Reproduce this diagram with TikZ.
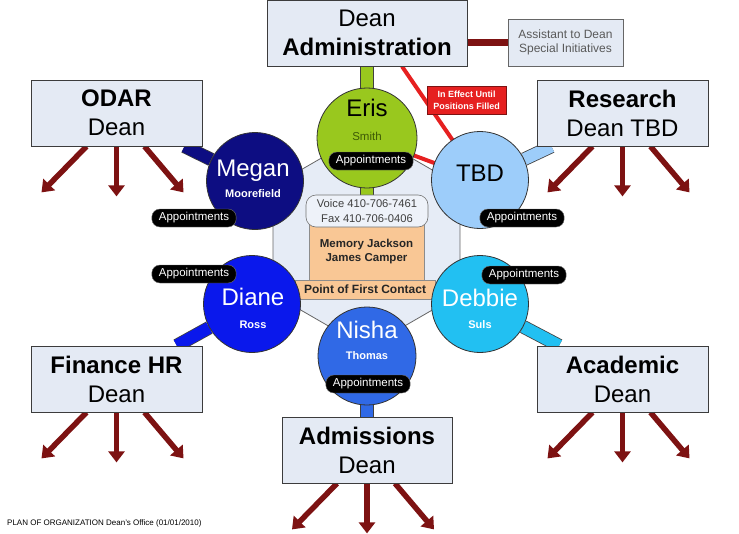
\documentclass[tikz,border=0pt]{standalone}
\usepackage{fontspec}
\setmainfont{Liberation Sans}
\usetikzlibrary{arrows.meta, positioning, calc}
\definecolor{deanfill}{HTML}{E4EAF4}
\definecolor{deanline}{HTML}{3C3C3C}
\definecolor{arrowred}{HTML}{7D1212}
\definecolor{linkred}{HTML}{E62020}
\definecolor{erisgreen}{HTML}{99C81E}
\definecolor{erisdark}{HTML}{3D5A05}
\definecolor{tbdblue}{HTML}{9DCDFA}
\definecolor{megannavy}{HTML}{0D0D82}
\definecolor{dianeblue}{HTML}{0A18EC}
\definecolor{nishablue}{HTML}{3069E6}
\definecolor{debbiecyan}{HTML}{22C0F2}
\definecolor{hexfill}{HTML}{E6ECF6}
\definecolor{contactpeach}{HTML}{F9C795}
\definecolor{voicefill}{HTML}{EEF2F9}

\pgfdeclarelayer{hexlayer}
\pgfdeclarelayer{links}
\pgfsetlayers{hexlayer,links,main}

\tikzset{
  deanbox/.style={draw=deanline, line width=0.8pt, fill=deanfill, minimum width=171pt,
    minimum height=66pt, align=center, inner sep=0pt, font=\fontsize{24}{29}\selectfont},
  person/.style={circle, draw=black!80, line width=0.8pt, fill=#1, minimum size=97pt, inner sep=0pt},
  pname/.style={inner sep=0pt, text height=.72em, text depth=0pt, text=white,
    font=\fontsize{24}{24}\selectfont},
  psub/.style={inner sep=0pt, text height=.72em, text depth=0pt, text=white,
    font=\fontsize{11}{11}\selectfont\bfseries},
  appt/.style={fill=black, draw=black!55, rounded corners=8pt, text=white, minimum height=18pt,
    inner xsep=7pt, inner ysep=0pt, font=\fontsize{11.5}{12}\selectfont},
  band/.style={draw=black!75, line width=0.8pt, double=#1, double distance=12pt},
  redlink/.style={draw=linkred, line width=4pt},
  subarrow/.style={draw=arrowred, line width=5.5pt, -{Triangle[width=16pt,length=11pt]}},
}

\begin{document}
\begin{tikzpicture}[x=1pt, y=-1pt]
  \useasboundingbox (0,0) rectangle (739,533);
  % deans
  \node[deanbox, minimum width=200pt] (adm) at (367,33) {Dean\\\textbf{Administration}};
  \node[draw=black!60, line width=0.6pt, fill=deanfill, minimum width=115pt, minimum height=47pt,
    align=center, inner sep=0pt, text=black!65, font=\fontsize{12}{14}\selectfont]
    (asst) at (565.5,42.5) {Assistant to Dean\\Special Initiatives};
  \node[deanbox] (odar) at (116.5,113) {\textbf{ODAR}\\Dean};
  \node[deanbox] (research) at (622.5,113) {\textbf{Research}\\Dean TBD};
  \node[deanbox] (finance) at (116.5,379) {\textbf{Finance HR}\\Dean};
  \node[deanbox] (academic) at (622.5,379) {\textbf{Academic}\\Dean};
  \node[deanbox, minimum width=170pt] (admissions) at (367,450) {\textbf{Admissions}\\Dean};

  % front desk
  \node[draw=black!45, line width=0.6pt, fill=contactpeach, minimum width=140pt, minimum height=19pt,
    inner sep=0pt, font=\fontsize{12}{12}\selectfont\bfseries, text=black!85]
    (contact) at (365,289.5) {Point of First Contact};
  \node[draw=black!45, line width=0.6pt, fill=contactpeach, minimum width=115pt, minimum height=58pt,
    align=center, inner sep=0pt, font=\fontsize{11.5}{13.5}\selectfont\bfseries, text=black!85]
    (memory) at (366.5,251) {\\[-4pt]Memory Jackson\\James Camper};
  \node[draw=black!55, line width=0.6pt, fill=voicefill, rounded corners=10pt, minimum width=122pt,
    minimum height=32pt, align=center, inner sep=0pt, font=\fontsize{11.2}{14.5}\selectfont, text=black!75]
    (voice) at (367,211) {Voice 410-706-7461\\Fax 410-706-0406};

  % staff circles
  \node[person=erisgreen, minimum size=100pt] (eris) at (367,138) {};
  \node[person=tbdblue] (tbd) at (480,180) {};
  \node[person=megannavy] (megan) at (255,181) {};
  \node[person=dianeblue] (diane) at (252,304) {};
  \node[person=debbiecyan] (debbie) at (480,304) {};
  \node[person=nishablue, minimum size=98pt] (nisha) at (367,356) {};

  \node[pname, text=black] (erisN) at (367,113) {Eris};
  \node[psub, text=erisdark, font=\fontsize{11.5}{11.5}\selectfont] (erisS) at (367,137) {Smith};
  \node[pname, text=black] (tbdN) at (480,178) {TBD};
  \node[pname] (meganN) at (253,173) {Megan};
  \node[psub] (meganS) at (253,194) {Moorefield};
  \node[pname] (dianeN) at (253,302) {Diane};
  \node[psub] (dianeS) at (253,325) {Ross};
  \node[pname] (debbieN) at (480,303) {Debbie};
  \node[psub] (debbieS) at (480,325) {Suls};
  \node[pname] (nishaN) at (367,335) {Nisha};
  \node[psub] (nishaS) at (367,356) {Thomas};

  % appointments tags
  \foreach \who/\x/\y in {eris/371/161, megan/194/218, tbd/522/218, diane/194/274, debbie/524/275, nisha/368/384}
    \node[appt] (\who-appt) at (\x,\y) {Appointments};

  \node[draw=arrowred, line width=0.6pt, fill=linkred, minimum width=79pt, minimum height=28pt,
    align=center, inner sep=0pt, text=white, font=\fontsize{9}{12}\selectfont\bfseries]
    (interim) at (466.5,100) {In Effect Until\\Positions Filled};

  \node[anchor=west, inner sep=0pt, font=\fontsize{8}{8}\selectfont] (footer) at (7,523)
    {PLAN OF ORGANIZATION Dean’s Office (01/01/2010)};

  % hexagon behind everything
  \begin{pgfonlayer}{hexlayer}
    \draw[fill=hexfill, draw=black!60, line width=0.8pt]
      (366.5,132) -- (460,186) -- (460,294) -- (366.5,348) -- (273,294) -- (273,186) -- cycle;
  \end{pgfonlayer}

  % links
  \begin{pgfonlayer}{links}
    \draw[band=erisgreen] (adm) -- (voice);
    \draw[band=megannavy] (megan) -- (odar);
    \draw[band=tbdblue] (tbd) -- (research);
    \draw[band=dianeblue] (diane) -- (finance);
    \draw[band=debbiecyan] (debbie) -- (academic);
    \draw[band=nishablue] (nisha) -- (admissions);
    \draw[redlink] ([xshift=35pt]adm.south) -- (tbd.center);
    \draw[redlink] (eris.center) -- (tbd.center);
    \draw[draw=arrowred, line width=7pt] (adm.east |- asst.west) -- (asst.west);
    % sub units
    \foreach \b in {odar,research,finance,academic,admissions}
      \foreach \sx/\ex/\ey [count=\i] in {-30/-75/46, 0/0/50, 28/67/46} {
        \coordinate (\b-tip\i) at ([xshift=\ex pt, yshift=-\ey pt]\b.south);
        \draw[subarrow] ([xshift=\sx pt]\b.south) -- (\b-tip\i);
      }
  \end{pgfonlayer}
\end{tikzpicture}
\end{document}
